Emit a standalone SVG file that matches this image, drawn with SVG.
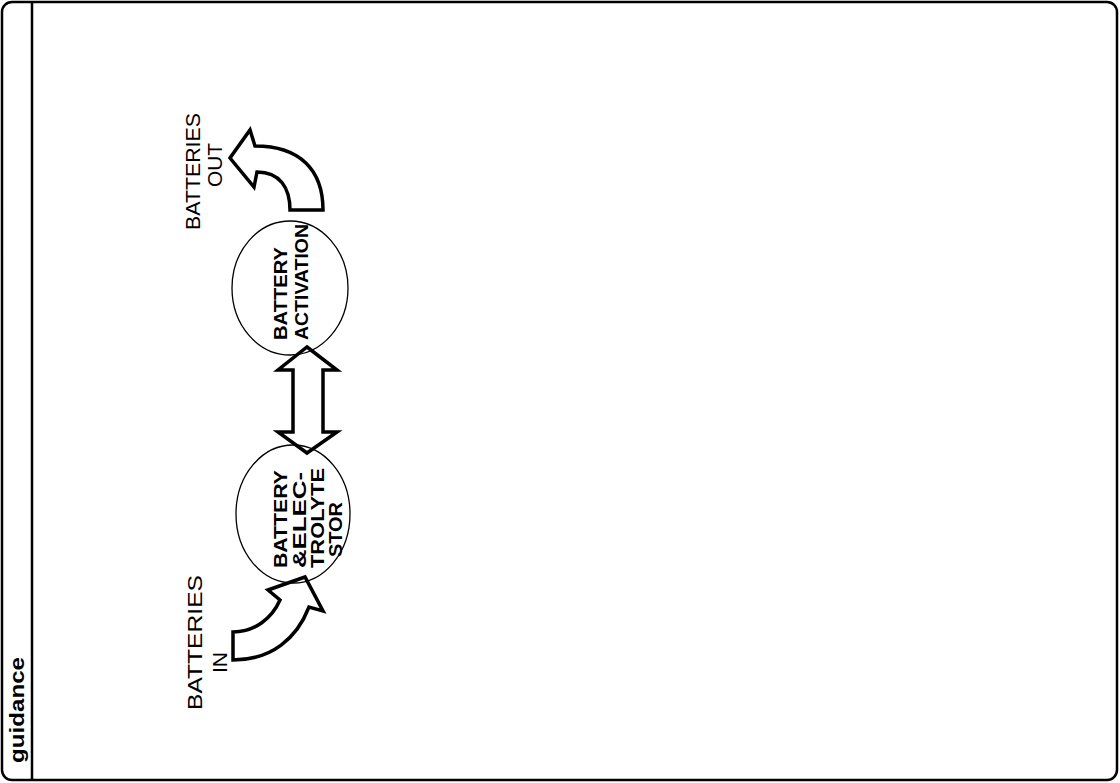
<svg xmlns="http://www.w3.org/2000/svg" width="1120" height="783" viewBox="0 0 1120 783">
<style>
.frame{fill:#fff;stroke:#000;stroke-width:2.5}
.bubble{fill:none;stroke:#000;stroke-width:1.3}
.arrow{fill:#fff;stroke:#000;stroke-width:3.5;stroke-linejoin:miter}
.ct{font-family:"Liberation Sans",Arial,sans-serif;font-weight:bold;font-size:19px;fill:#000}
.hand{font-family:"Liberation Sans",Arial,sans-serif;font-weight:normal;font-size:20px;fill:#000}
.title{font-family:"Liberation Sans",Arial,sans-serif;font-weight:bold;font-size:20px;fill:#000}
</style>
<rect x="0" y="0" width="1120" height="783" fill="#fff"/>
<g id="frame">
<rect class="frame" x="2" y="2" width="1115" height="778" rx="10"/>
<line x1="32" y1="2" x2="32" y2="780" stroke="#000" stroke-width="2.5"/>
<text class="title" x="24" y="763" transform="rotate(-90 24 763)" textLength="106" lengthAdjust="spacingAndGlyphs">guidance</text>
</g>
<g id="connectors">
<path id="arrow-in" class="arrow" d="M233,632 C255,632 272,618 280,600 L268,590 L305,577 L323,611 L309,607 C297,638 272,660 233,660 Z"/>
<path id="arrow-both" class="arrow" d="M307,347 L337,370 L323,370 L323,432 L337,432 L307,453 L278,432 L293,432 L293,370 L278,370 Z"/>
<path id="arrow-out" class="arrow" d="M323,210 L290,210 C290,188 280,172 257,172 L254,187 L230,158 L250,130 L255,146 C300,146 323,170 323,210 Z"/>
</g>
<g id="node-activation">
<ellipse class="bubble" cx="290" cy="288" rx="58" ry="67"/>
<text class="ct" x="287" y="340" transform="rotate(-90 287 340)" textLength="93" lengthAdjust="spacingAndGlyphs">BATTERY</text>
<text class="ct" x="308" y="340" transform="rotate(-90 308 340)" textLength="116" lengthAdjust="spacingAndGlyphs">ACTIVATION</text>
</g>
<g id="node-storage">
<ellipse class="bubble" cx="293" cy="514" rx="57" ry="69"/>
<text class="ct" x="287" y="568" transform="rotate(-90 287 568)" textLength="98" lengthAdjust="spacingAndGlyphs">BATTERY</text>
<text class="ct" x="306" y="568" transform="rotate(-90 306 568)" textLength="96" lengthAdjust="spacingAndGlyphs">&amp;ELEC-</text>
<text class="ct" x="324" y="568" transform="rotate(-90 324 568)" textLength="100" lengthAdjust="spacingAndGlyphs">TROLYTE</text>
<text class="ct" x="342" y="557" transform="rotate(-90 342 557)" textLength="55" lengthAdjust="spacingAndGlyphs">STOR</text>
</g>
<g id="label-out">
<text class="hand" x="200" y="230" transform="rotate(-90 200 230)" textLength="117" lengthAdjust="spacingAndGlyphs">BATTERIES</text>
<text class="hand" x="222" y="187" transform="rotate(-90 222 187)" textLength="44" lengthAdjust="spacingAndGlyphs">OUT</text>
</g>
<g id="label-in">
<text class="hand" x="202" y="710" transform="rotate(-90 202 710)" textLength="135" lengthAdjust="spacingAndGlyphs">BATTERIES</text>
<text class="hand" x="227" y="673" transform="rotate(-90 227 673)" textLength="21" lengthAdjust="spacingAndGlyphs">IN</text>
</g>
</svg>
